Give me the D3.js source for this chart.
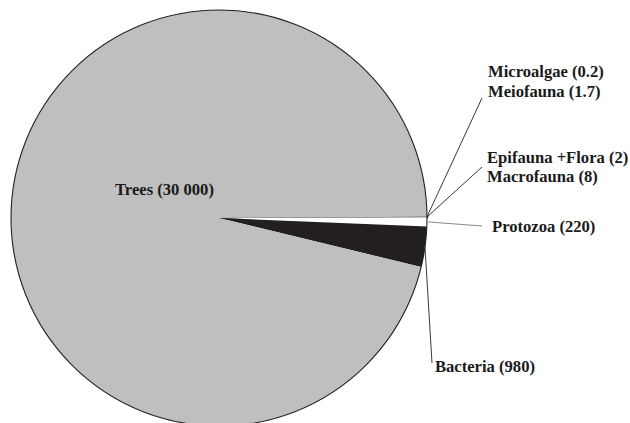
<!DOCTYPE html>
<html>
<head>
<meta charset="utf-8">
<script src="https://cdn.jsdelivr.net/npm/d3@7"></script>
<style>
  html, body { margin: 0; padding: 0; background: #fff; }
  svg { display: block; }
  text { font-family: "Liberation Serif", "Times New Roman", serif; font-weight: bold; font-size: 16.6px; fill: #1a1a1a; }
</style>
</head>
<body>
<svg id="chart" width="630" height="423"></svg>
<script>
// Standing stock of mangrove forest components
const categories = ["Microalgae", "Meiofauna", "Epifauna +Flora", "Macrofauna", "Protozoa", "Bacteria", "Trees"];
const values = [0.2, 1.7, 2, 8, 220, 980, 30000];

// Label groups: which categories share one callout
const calloutGroups = [
  ["Microalgae", "Meiofauna"],
  ["Epifauna +Flora", "Macrofauna"],
  ["Protozoa"],
  ["Bacteria"]
];

const fills = ["#161616", "#161616", "#161616", "#161616", "#ffffff", "#231f20", "#bfbfbf"];

const W = 630, H = 423;
const cx = 219, cy = 218, R = 208;

const svg = d3.select("#chart");
const g = svg.append("g").attr("transform", `translate(${cx},${cy})`);

const color = d3.scaleOrdinal(categories, fills);

// Space as thousands separator ("30 000")
const fmt = d3.formatLocale({ decimal: ".", thousands: " ", grouping: [3], currency: ["", ""] }).format(",");
const labelOf = i => `${categories[i]} (${fmt(values[i])})`;

const start = Math.PI / 2 - 0.006;
const pie = d3.pie().sort(null).startAngle(start).endAngle(start + 2 * Math.PI);
const arcs = pie(values);
const arc = d3.arc().innerRadius(0).outerRadius(R);

// Slices; the tiny ones get an outline of their own colour so they stay visible
g.selectAll("path.slice")
  .data(arcs)
  .join("path")
  .attr("class", "slice")
  .attr("d", arc)
  .attr("fill", (d, i) => color(categories[i]))
  .attr("stroke", (d, i) => values[i] < 100 ? color(categories[i]) : "none")
  .attr("stroke-width", (d, i) => values[i] < 100 ? 2.4 : 0)
  .attr("stroke-linejoin", "round");

// Outer rim
g.append("circle").attr("r", R).attr("fill", "none").attr("stroke", "#222").attr("stroke-width", 1.1);

// Callouts: leader from the slice rim to the text block
const callouts = [
  { end: [482, 98], text: [[488, 77], [488, 97]] },
  { end: [482, 167], text: [[487, 163], [487, 182]] },
  { end: [482, 226], text: [[492, 232]] },
  { end: [432, 363], text: [[435, 372]] }
];

callouts.forEach((c, k) => {
  const idx = calloutGroups[k].map(name => categories.indexOf(name));
  const a0 = arcs[idx[0]].startAngle, a1 = arcs[idx[idx.length - 1]].endAngle;
  const mid = (a0 + a1) / 2;
  const x0 = cx + R * Math.sin(mid), y0 = cy - R * Math.cos(mid);
  svg.append("line")
    .attr("x1", x0).attr("y1", y0)
    .attr("x2", c.end[0]).attr("y2", c.end[1])
    .attr("stroke", k === 2 ? "#8a8a8a" : "#3a3a3a")
    .attr("stroke-width", 1);
  idx.forEach((i, j) => {
    svg.append("text").attr("x", c.text[j][0]).attr("y", c.text[j][1]).text(labelOf(i));
  });
});

// Label inside the largest slice
const treeIdx = categories.indexOf("Trees");
svg.append("text").attr("x", 115).attr("y", 195).text(labelOf(treeIdx));
</script>
</body>
</html>
